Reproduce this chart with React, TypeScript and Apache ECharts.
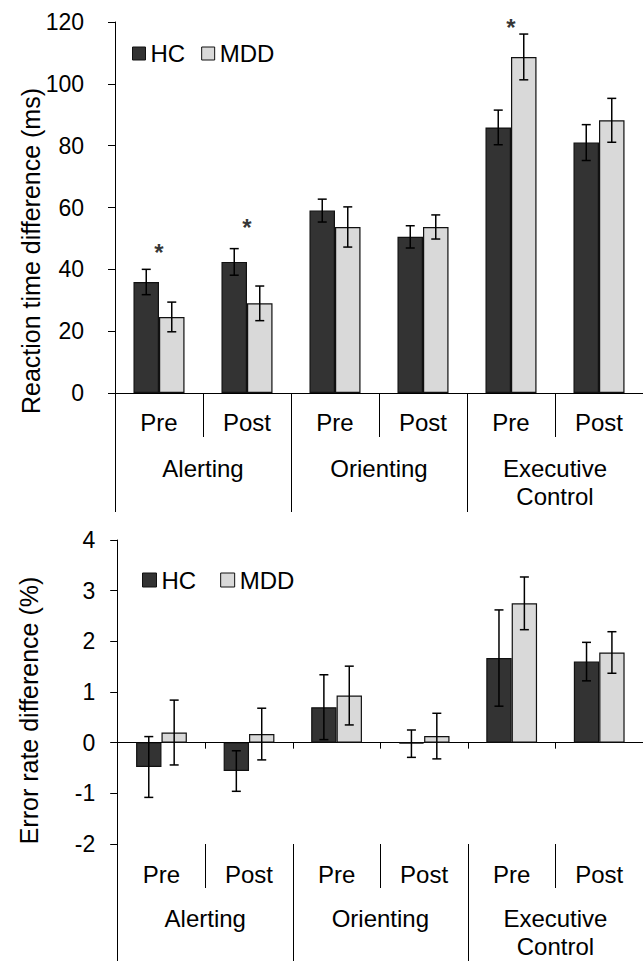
import React, { useEffect, useRef } from "react";
import * as echarts from "echarts";

const CATS = ["Pre", "Post", "Pre", "Post", "Pre", "Post"];
const GROUPS = ["Alerting", "Orienting", "Executive\nControl"];

const RT_HC = [35.9, 42.4, 59.0, 50.5, 85.9, 81.0];
const RT_HC_ERR = [4.1, 4.3, 3.7, 3.6, 5.6, 5.8];
const RT_MDD = [24.6, 29.0, 53.7, 53.7, 108.7, 88.2];
const RT_MDD_ERR = [4.8, 5.6, 6.5, 3.9, 7.4, 7.1];
const RT_SIG_CAT = [0, 1, 4];
const RT_SIG_Y = [45.3, 53.4, 118.1];

const ER_HC = [-0.48, -0.56, 0.7, -0.02, 1.67, 1.6];
const ER_HC_ERR = [0.6, 0.4, 0.64, 0.27, 0.95, 0.38];
const ER_MDD = [0.2, 0.17, 0.93, 0.13, 2.75, 1.78];
const ER_MDD_ERR = [0.64, 0.51, 0.58, 0.45, 0.52, 0.41];

const RT_TICKS = { min: 0, max: 120, interval: 20 };
const ER_TICKS = { min: -2, max: 4, interval: 1 };

const FONT = "'Liberation Sans', Arial, sans-serif";
const HC_COLOR = "#333333";
const MDD_COLOR = "#d9d9d9";
const BAR_GAP_FRAC = 0.42;

function errSeries(name: string, xi: number, yi: number, means: number[], errs: number[], sign: number) {
  return {
    type: "custom",
    name,
    xAxisIndex: xi,
    yAxisIndex: yi,
    z: 5,
    encode: { x: 0, y: 1 },
    data: means.map((m, i) => [i, m, errs[i]]),
    renderItem: (params: any, api: any) => {
      const cat = api.value(0);
      const mean = api.value(1);
      const err = api.value(2);
      const top = api.coord([cat, mean + err]);
      const bot = api.coord([cat, mean - err]);
      const catW = api.size([1, 0])[0];
      const x = top[0] + sign * catW * (1 - BAR_GAP_FRAC) / 4;
      const cap = 4.5;
      const style = { stroke: "#000", lineWidth: 1.5 };
      return {
        type: "group",
        children: [
          { type: "line", shape: { x1: x, y1: top[1], x2: x, y2: bot[1] }, style },
          { type: "line", shape: { x1: x - cap, y1: top[1], x2: x + cap, y2: top[1] }, style },
          { type: "line", shape: { x1: x - cap, y1: bot[1], x2: x + cap, y2: bot[1] }, style },
        ],
      };
    },
  };
}

function barSeries(name: string, xi: number, yi: number, data: number[], color: string) {
  return {
    type: "bar",
    name,
    xAxisIndex: xi,
    yAxisIndex: yi,
    data,
    barGap: "0%",
    barCategoryGap: BAR_GAP_FRAC * 100 + "%",
    itemStyle: { color, borderColor: "#111", borderWidth: 1.2 },
  };
}

export default function App() {
  const ref = useRef<HTMLDivElement>(null);
  useEffect(() => {
    if (!ref.current) return;
    const chart = echarts.init(ref.current, null, { renderer: "svg" });
    const axisLine = { show: true, lineStyle: { color: "#000", width: 1 } };
    const tickStyle = { color: "#000", width: 1 };
    const catLabel = { interval: 0, fontSize: 24, color: "#000", fontFamily: FONT };
    const option: any = {
      animation: false,
      textStyle: { fontFamily: FONT },
      grid: [
        { left: 115, top: 22, width: 532.5, height: 371 },
        { left: 117.7, top: 540, width: 532.5, height: 304 },
      ],
      legend: [
        {
          data: ["HC", "MDD"],
          left: 132,
          top: 41.5,
          padding: 0,
          icon: "rect",
          itemWidth: 13,
          itemHeight: 13,
          itemGap: 16,
          itemStyle: { borderColor: "#111", borderWidth: 1 },
          textStyle: { fontSize: 24, color: "#000", fontFamily: FONT },
          selectedMode: false,
        },
        {
          data: ["HC", "MDD"],
          left: 142,
          top: 568,
          padding: 0,
          icon: "rect",
          itemWidth: 14,
          itemHeight: 14,
          itemGap: 24,
          itemStyle: { borderColor: "#111", borderWidth: 1 },
          textStyle: { fontSize: 24, color: "#000", fontFamily: FONT },
          selectedMode: false,
        },
      ],
      xAxis: [
        {
          type: "category",
          gridIndex: 0,
          position: "bottom",
          data: CATS,
          axisLine,
          axisTick: { show: true, interval: 0, length: 44, lineStyle: tickStyle },
          axisLabel: { ...catLabel, margin: 17.5 },
        },
        {
          type: "category",
          gridIndex: 0,
          position: "bottom",
          data: GROUPS,
          axisLine: { show: false, onZero: false },
          axisTick: { show: true, interval: 0, length: 119, lineStyle: tickStyle },
          axisLabel: { ...catLabel, margin: 61, lineHeight: 28 },
        },
        {
          type: "category",
          gridIndex: 1,
          position: "bottom",
          data: CATS,
          axisLine: { show: true, onZero: true, lineStyle: { color: "#000", width: 1 } },
          axisTick: { show: true, interval: 0, length: 6, lineStyle: tickStyle },
          axisLabel: { show: false },
        },
        {
          type: "category",
          gridIndex: 1,
          position: "bottom",
          data: CATS,
          axisLine: { show: false, onZero: false },
          axisTick: { show: true, interval: 0, length: 44, lineStyle: tickStyle },
          axisLabel: { ...catLabel, margin: 18 },
        },
        {
          type: "category",
          gridIndex: 1,
          position: "bottom",
          data: GROUPS,
          axisLine: { show: false, onZero: false },
          axisTick: { show: true, interval: 0, length: 122, lineStyle: tickStyle },
          axisLabel: { ...catLabel, margin: 60, lineHeight: 28 },
        },
      ],
      yAxis: [
        {
          type: "value",
          gridIndex: 0,
          ...RT_TICKS,
          axisLine,
          axisTick: { show: true, length: 7, lineStyle: tickStyle },
          splitLine: { show: false },
          axisLabel: { fontSize: 23, color: "#000", margin: 31, fontFamily: FONT },
        },
        {
          type: "value",
          gridIndex: 1,
          ...ER_TICKS,
          axisLine,
          axisTick: { show: true, length: 7.5, lineStyle: tickStyle },
          splitLine: { show: false },
          axisLabel: { fontSize: 23, color: "#000", margin: 22.5, fontFamily: FONT },
        },
      ],
      graphic: [
        {
          type: "text",
          x: 31,
          y: 251,
          rotation: Math.PI / 2,
          style: {
            text: "Reaction time difference (ms)",
            font: `25px ${FONT}`,
            fill: "#000",
            align: "center",
            verticalAlign: "middle",
          },
        },
        {
          type: "text",
          x: 29,
          y: 710.5,
          rotation: Math.PI / 2,
          style: {
            text: "Error rate difference (%)",
            font: `25px ${FONT}`,
            fill: "#000",
            align: "center",
            verticalAlign: "middle",
          },
        },
      ],
      series: [
        barSeries("HC", 0, 0, RT_HC, HC_COLOR),
        barSeries("MDD", 0, 0, RT_MDD, MDD_COLOR),
        errSeries("rtHCerr", 0, 0, RT_HC, RT_HC_ERR, -1),
        errSeries("rtMDDerr", 0, 0, RT_MDD, RT_MDD_ERR, 1),
        {
          type: "scatter",
          name: "sig",
          xAxisIndex: 0,
          yAxisIndex: 0,
          symbolSize: 1,
          itemStyle: { color: "rgba(0,0,0,0)" },
          data: RT_SIG_CAT.map((c, i) => [c, RT_SIG_Y[i]]),
          label: {
            show: true,
            position: "inside",
            formatter: "*",
            fontSize: 24,
            fontWeight: "bold",
            color: "#000",
            fontFamily: FONT,
          },
          z: 6,
        },
        barSeries("HC", 2, 1, ER_HC, HC_COLOR),
        barSeries("MDD", 2, 1, ER_MDD, MDD_COLOR),
        errSeries("erHCerr", 2, 1, ER_HC, ER_HC_ERR, -1),
        errSeries("erMDDerr", 2, 1, ER_MDD, ER_MDD_ERR, 1),
      ],
    };
    chart.setOption(option);
    return () => chart.dispose();
  }, []);
  return (
    <div
      ref={ref}
      style={{ position: "absolute", left: 0, top: 0, width: 643, height: 961, background: "#fff" }}
    />
  );
}
